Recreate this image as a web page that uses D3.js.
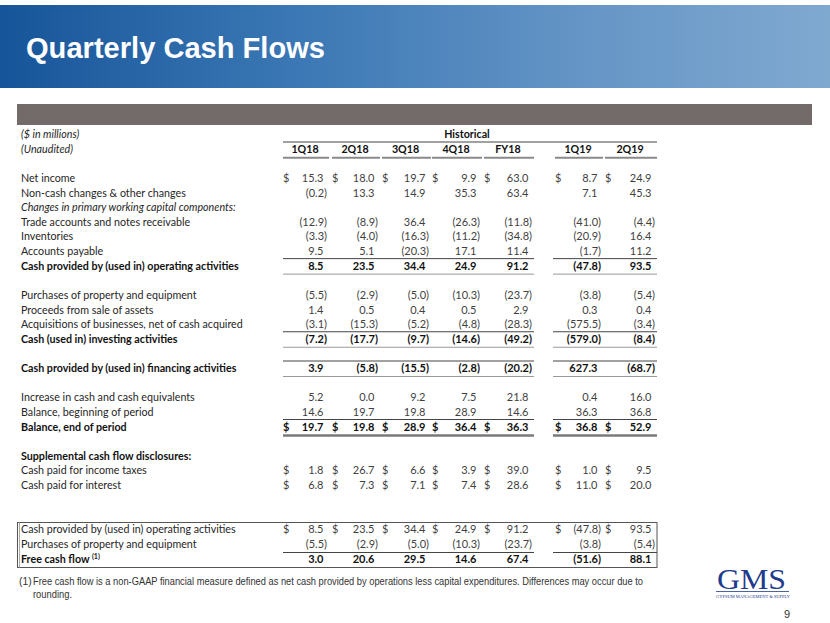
<!DOCTYPE html>
<html>
<head>
<meta charset="utf-8">
<script src="https://cdn.jsdelivr.net/npm/d3@7"></script>
<style>
  body { margin: 0; background: #fff; }
  svg { display: block; }
  .lbl { font-family: Lato, 'Open Sans', sans-serif; font-size: 10.7px; fill: #262626; }
  .num { font-family: Lato, 'Open Sans', sans-serif; font-size: 11px; fill: #3f3f3f; }
  .bold { font-weight: bold; fill: #111; }
  .ital { font-style: italic; }
</style>
</head>
<body>
<div id="slide"></div>
<script>
// columns of the table
const columns = ['1Q18', '2Q18', '3Q18', '4Q18', 'FY18', '1Q19', '2Q19']

// series, one value per column ($ in millions)
const netIncome = [15.3, 18.0, 19.7, 9.9, 63.0, 8.7, 24.9]
const nonCash = [-0.2, 13.3, 14.9, 35.3, 63.4, 7.1, 45.3]
const tradeReceivable = [-12.9, -8.9, 36.4, -26.3, -11.8, -41.0, -4.4]
const inventories = [-3.3, -4.0, -16.3, -11.2, -34.8, -20.9, 16.4]
const accountsPayable = [9.5, 5.1, -20.3, 17.1, 11.4, -1.7, 11.2]
const operating = [8.5, 23.5, 34.4, 24.9, 91.2, -47.8, 93.5]
const capex = [-5.5, -2.9, -5.0, -10.3, -23.7, -3.8, -5.4]
const assetSales = [1.4, 0.5, 0.4, 0.5, 2.9, 0.3, 0.4]
const acquisitions = [-3.1, -15.3, -5.2, -4.8, -28.3, -575.5, -3.4]
const investing = [-7.2, -17.7, -9.7, -14.6, -49.2, -579.0, -8.4]
const financing = [3.9, -5.8, -15.5, -2.8, -20.2, 627.3, -68.7]
const cashIncrease = [5.2, 0.0, 9.2, 7.5, 21.8, 0.4, 16.0]
const balanceBegin = [14.6, 19.7, 19.8, 28.9, 14.6, 36.3, 36.8]
const balanceEnd = [19.7, 19.8, 28.9, 36.4, 36.3, 36.8, 52.9]
const incomeTaxes = [1.8, 26.7, 6.6, 3.9, 39.0, 1.0, 9.5]
const interestPaid = [6.8, 7.3, 7.1, 7.4, 28.6, 11.0, 20.0]
const freeCashFlow = [3.0, 20.6, 29.5, 14.6, 67.4, -51.6, 88.1]

const title = 'Quarterly Cash Flows'
const footnote = 'Free cash flow is a non-GAAP financial measure defined as net cash provided by operations less capital expenditures. Differences may occur due to'

const W = 830, H = 623

const svg = d3.select('#slide').append('svg')
    .attr('width', W)
    .attr('height', H)

// header band
const defs = svg.append('defs')
const grad = defs.append('linearGradient').attr('id', 'band')
grad.selectAll('stop')
    .data([[0, '#17559a'], [0.35, '#3a77b4'], [0.7, '#6595c6'], [1, '#80a9d0']])
    .enter().append('stop')
    .attr('offset', d => d[0])
    .attr('stop-color', d => d[1])

svg.append('rect')
    .attr('x', 0).attr('y', 5).attr('width', W).attr('height', 83)
    .attr('fill', 'url(#band)')
svg.append('text')
    .attr('x', 26).attr('y', 58)
    .attr('font-family', 'Liberation Sans, Arial, sans-serif')
    .attr('font-weight', 'bold')
    .attr('font-size', 29)
    .attr('fill', '#fff')
    .attr('textLength', 299)
    .attr('lengthAdjust', 'spacingAndGlyphs')
    .text(title)

// gray bar over the table
svg.append('rect')
    .attr('x', 17).attr('y', 104).attr('width', 795).attr('height', 21)
    .attr('fill', '#736b69')

// table scales
const colRight = [327, 378, 429, 480, 532, 601, 655]
const colLeft = [283, 332, 382, 432, 484, 555, 605]
const x = d3.scaleOrdinal().domain(columns).range(colRight)
const xLeft = d3.scaleOrdinal().domain(columns).range(colLeft)
const y = d3.scaleLinear().domain([-3, 21]).range([138, 489])
const groups = [[283, 534], [553, 657]]
const parenW = 3.5

const fmtNum = d3.format('.1f')
const fmt = v => v < 0 ? '(' + fmtNum(-v) + ')' : fmtNum(v)

const rows = [
  { slot: 0, label: 'Net income', values: netIncome, dollar: true },
  { slot: 1, label: 'Non-cash changes & other changes', values: nonCash },
  { slot: 2, label: 'Changes in primary working capital components:', italic: true },
  { slot: 3, label: 'Trade accounts and notes receivable', values: tradeReceivable },
  { slot: 4, label: 'Inventories', values: inventories },
  { slot: 5, label: 'Accounts payable', values: accountsPayable },
  { slot: 6, label: 'Cash provided by (used in) operating activities', values: operating, bold: true, above: true, below: true },
  { slot: 8, label: 'Purchases of property and equipment', values: capex },
  { slot: 9, label: 'Proceeds from sale of assets', values: assetSales },
  { slot: 10, label: 'Acquisitions of businesses, net of cash acquired', values: acquisitions },
  { slot: 11, label: 'Cash (used in) investing activities', values: investing, bold: true, above: true, below: true },
  { slot: 13, label: 'Cash provided by (used in) financing activities', values: financing, bold: true, above: true, below: true },
  { slot: 15, label: 'Increase in cash and cash equivalents', values: cashIncrease },
  { slot: 16, label: 'Balance, beginning of period', values: balanceBegin },
  { slot: 17, label: 'Balance, end of period', values: balanceEnd, bold: true, dollar: true, above: true, double: true },
  { slot: 19, label: 'Supplemental cash flow disclosures:', bold: true },
  { slot: 20, label: 'Cash paid for income taxes', values: incomeTaxes, dollar: true },
  { slot: 21, label: 'Cash paid for interest', values: interestPaid, dollar: true }
]

const table = svg.append('g')

// headings
table.append('text').attr('class', 'lbl ital').attr('x', 21).attr('y', y(-3)).text('($ in millions)')
table.append('text').attr('class', 'lbl ital').attr('x', 21).attr('y', y(-2)).text('(Unaudited)')
table.append('text').attr('class', 'lbl bold')
    .attr('x', 467).attr('y', y(-3))
    .attr('text-anchor', 'middle')
    .text('Historical')
table.append('line')
    .attr('x1', 283).attr('x2', 657)
    .attr('y1', y(-3) + 4).attr('y2', y(-3) + 4)
    .attr('stroke', '#444').attr('stroke-width', 1)
table.selectAll('text.head')
    .data(columns)
    .enter().append('text')
    .attr('class', 'lbl bold head')
    .attr('x', d => (x(d) + xLeft(d)) / 2)
    .attr('y', y(-2))
    .attr('text-anchor', 'middle')
    .text(d => d)
table.selectAll('line.headrule')
    .data(columns)
    .enter().append('line')
    .attr('class', 'headrule')
    .attr('x1', d => xLeft(d)).attr('x2', d => x(d) + 2)
    .attr('y1', y(-2) + 5).attr('y2', y(-2) + 5)
    .attr('stroke', '#8a8a8a').attr('stroke-width', 2)

function rule(g, yy, color, width) {
  groups.forEach(([a, b]) => {
    g.append('line')
        .attr('x1', a).attr('x2', b)
        .attr('y1', yy).attr('y2', yy)
        .attr('stroke', color).attr('stroke-width', width)
  })
}

function drawValues(g, values, yy, opts) {
  const cells = columns.map((c, i) => ({ col: c, v: values[i] }))
  g.selectAll(null)
      .data(cells)
      .enter().append('text')
      .attr('class', 'num' + (opts.bold ? ' bold' : ''))
      .attr('x', d => d.v < 0 ? x(d.col) : x(d.col) - parenW)
      .attr('y', yy)
      .attr('text-anchor', 'end')
      .text(d => fmt(d.v))
  if (opts.dollar) {
    g.selectAll(null)
        .data(cells)
        .enter().append('text')
        .attr('class', 'num' + (opts.bold ? ' bold' : ''))
        .attr('x', d => xLeft(d.col))
        .attr('y', yy)
        .text('$')
  }
}

rows.forEach(r => {
  const yy = y(r.slot)
  const g = table.append('g')
  g.append('text')
      .attr('class', 'lbl' + (r.bold ? ' bold' : '') + (r.italic ? ' ital' : ''))
      .attr('x', 21).attr('y', yy)
      .text(r.label)
  if (r.values) drawValues(g, r.values, yy, r)
  if (r.above) rule(g, yy - 11, '#444', 1)
  if (r.below) rule(g, yy + 4.5, '#9a9a9a', 1)
  if (r.double) rule(g, yy + 5, '#7a7a7a', 2.5)
})

// free cash flow box
const yb = d3.scaleLinear().domain([0, 2]).range([533, 563])
const box = svg.append('g')
box.append('rect')
    .attr('x', 17.5).attr('y', 522.5).attr('width', 639.5).attr('height', 45)
    .attr('fill', 'none').attr('stroke', '#555').attr('stroke-width', 1)
box.append('line')
    .attr('x1', 19.5).attr('x2', 19.5).attr('y1', 522.5).attr('y2', 567.5)
    .attr('stroke', '#aaa').attr('stroke-width', 1)

box.append('text').attr('class', 'lbl').attr('x', 21).attr('y', yb(0))
    .text('Cash provided by (used in) operating activities')
drawValues(box.append('g'), operating, yb(0), { dollar: true })
box.append('text').attr('class', 'lbl').attr('x', 21).attr('y', yb(1))
    .text('Purchases of property and equipment')
drawValues(box.append('g'), capex, yb(1), {})
rule(box, yb(1) + 4.5, '#444', 1)
const fcf = box.append('text').attr('class', 'lbl bold').attr('x', 21).attr('y', yb(2))
fcf.append('tspan').text('Free cash flow ')
fcf.append('tspan').attr('font-size', 7).attr('dy', -4).text('(1)')
drawValues(box.append('g'), freeCashFlow, yb(2), { bold: true })

// footnote
const note = svg.append('g')
    .attr('font-family', 'Liberation Sans, Arial, sans-serif')
    .attr('font-size', 10.3)
    .attr('fill', '#333')
note.append('text').attr('x', 19).attr('y', 585).text('(1)')
note.append('text').attr('x', 33).attr('y', 585)
    .attr('textLength', 610).attr('lengthAdjust', 'spacingAndGlyphs')
    .text(footnote)
note.append('text').attr('x', 33).attr('y', 598)
    .attr('textLength', 39).attr('lengthAdjust', 'spacingAndGlyphs')
    .text('rounding.')

// logo and page number
const logo = svg.append('g').attr('fill', '#1f3c8c')
logo.append('text')
    .attr('x', 717).attr('y', 589)
    .attr('font-family', 'Liberation Serif, Times New Roman, serif')
    .attr('font-size', 29)
    .attr('textLength', 69).attr('lengthAdjust', 'spacingAndGlyphs')
    .text('GMS')
logo.append('line')
    .attr('x1', 716).attr('x2', 789).attr('y1', 591.5).attr('y2', 591.5)
    .attr('stroke', '#1f3c8c').attr('stroke-width', 0.8)
logo.append('text')
    .attr('x', 716).attr('y', 597.5)
    .attr('font-family', 'Liberation Serif, Times New Roman, serif')
    .attr('font-size', 4.5)
    .attr('textLength', 74).attr('lengthAdjust', 'spacingAndGlyphs')
    .text('GYPSUM MANAGEMENT & SUPPLY')
svg.append('text')
    .attr('x', 787).attr('y', 618)
    .attr('text-anchor', 'middle')
    .attr('font-family', 'Liberation Sans, Arial, sans-serif')
    .attr('font-size', 11)
    .attr('fill', '#333')
    .text('9')
</script>
</body>
</html>
